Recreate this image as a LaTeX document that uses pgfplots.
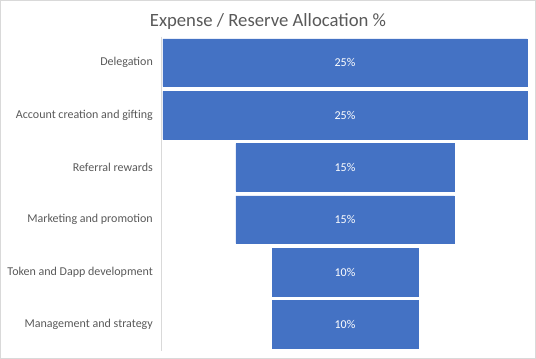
\documentclass[border=0pt]{standalone}
\usepackage{pgfplots}
\pgfplotsset{compat=1.18}
\usepackage{pgfplotstable}
\usepackage{fontspec}
\setmainfont{Carlito}
\definecolor{barblue}{HTML}{4472C4}
\definecolor{txtgray}{HTML}{595959}
\definecolor{linegray}{HTML}{D9D9D9}
\pgfplotstableread{
y val
0 25
1 25
2 15
3 15
4 10
5 10
}\funneldata
\begin{document}
\begin{tikzpicture}
\path[use as bounding box] (0,0) rectangle (536bp,359bp);
\draw[linegray, line width=1bp] (0.5bp,0.5bp) rectangle (535.5bp,358.5bp);
\node[anchor=base, text=txtgray, font=\fontsize{18.7bp}{22bp}\selectfont] at (268bp,332.5bp) {Expense / Reserve Allocation \%};
\begin{axis}[
  at={(161bp,8.5bp)}, anchor=south west,
  scale only axis, width=366bp, height=314bp,
  xmin=-12.637, xmax=12.5,
  ymin=-0.5, ymax=5.5, y dir=reverse,
  axis x line=none,
  axis y line*=left,
  y axis line style={linegray, line width=1bp, -},
  major tick length=0pt,
  ytick={0,1,2,3,4,5},
  yticklabels={Delegation, Account creation and gifting, Referral rewards, Marketing and promotion, Token and Dapp development, Management and strategy},
  yticklabel style={text=txtgray, font=\fontsize{12bp}{14bp}\selectfont, inner sep=0pt, xshift=-8bp},
  clip=false,
]
\addplot[xbar, bar width=47.5bp, bar shift=0pt, fill=barblue, draw=barblue, line width=0.2bp] table[x expr=\thisrow{val}/2, y=y] {\funneldata};
\addplot[xbar, bar width=47.5bp, bar shift=0pt, fill=barblue, draw=barblue, line width=0.2bp] table[x expr=-\thisrow{val}/2, y=y] {\funneldata};
\addplot[only marks, mark=none, point meta=explicit symbolic,
  nodes near coords={\pgfplotspointmeta\%},
  every node near coord/.append style={anchor=center, text=white, font=\fontsize{12bp}{14bp}\selectfont}]
  table[x expr=0, y=y, meta=val] {\funneldata};
\end{axis}
\end{tikzpicture}
\end{document}
